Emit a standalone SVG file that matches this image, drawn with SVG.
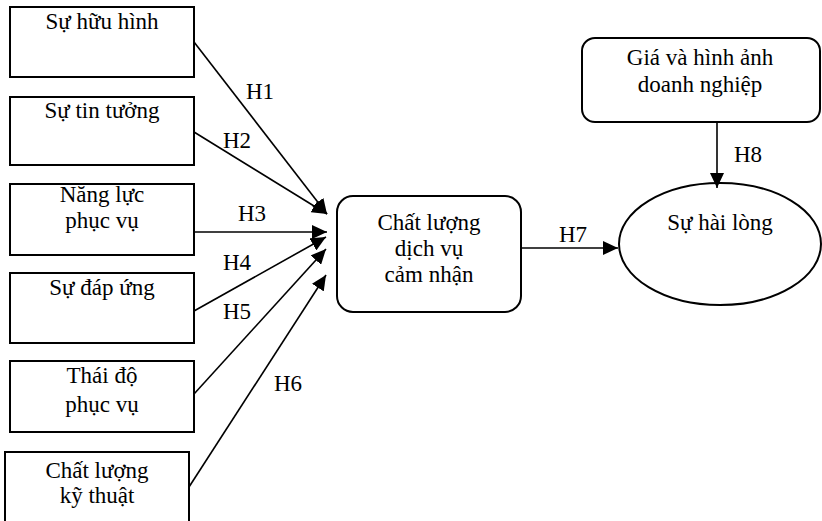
<svg xmlns="http://www.w3.org/2000/svg" width="822" height="521" viewBox="0 0 822 521">
<style>
.box{fill:#fff;stroke:#000;stroke-width:2}
text{font-family:'Liberation Serif','Times New Roman',serif;font-size:23px;fill:#000}
.t{text-anchor:middle}
.c{stroke:#000;stroke-width:1.6;fill:none;marker-end:url(#ah)}
</style>
<defs>
<marker id="ah" markerUnits="userSpaceOnUse" markerWidth="16" markerHeight="14" refX="15" refY="7" orient="auto">
<path d="M0,0 L15,7 L0,14 Z" fill="#000"/>
</marker>
</defs>
<rect width="822" height="521" fill="#fff"/>
<g id="n1"><rect class="box" x="10" y="7" width="184" height="70"/><text class="t" x="102" y="29">Sự hữu hình</text></g>
<g id="n2"><rect class="box" x="10" y="97" width="184" height="68"/><text class="t" x="102" y="118">Sự tin tưởng</text></g>
<g id="n3"><rect class="box" x="10" y="184" width="184" height="71"/><text class="t" x="102" y="202">Năng lực</text><text class="t" x="102" y="228">phục vụ</text></g>
<g id="n4"><rect class="box" x="10" y="273" width="184" height="70"/><text class="t" x="102" y="295">Sự đáp ứng</text></g>
<g id="n5"><rect class="box" x="10" y="361" width="184" height="71"/><text class="t" x="102" y="383">Thái độ</text><text class="t" x="102" y="412">phục vụ</text></g>
<g id="n6"><rect class="box" x="5" y="452" width="184" height="80"/><text class="t" x="97" y="478">Chất lượng</text><text class="t" x="97" y="503">kỹ thuật</text></g>
<g id="n7"><rect class="box" x="337" y="196" width="184" height="116" rx="16"/><text class="t" x="429" y="230">Chất lượng</text><text class="t" x="429" y="256">dịch vụ</text><text class="t" x="429" y="282">cảm nhận</text></g>
<g id="n8"><rect class="box" x="582" y="38" width="238" height="84" rx="13"/><text class="t" x="700" y="65">Giá và hình ảnh</text><text class="t" x="700" y="92">doanh nghiệp</text></g>
<g id="n9"><ellipse class="box" cx="720" cy="244" rx="101" ry="61"/><text class="t" x="720" y="230">Sự hài lòng</text></g>
<g id="connectors">
<line class="c" x1="194" y1="42" x2="327" y2="214"/>
<line class="c" x1="194" y1="132" x2="327" y2="214"/>
<line class="c" x1="194" y1="232" x2="327" y2="232"/>
<line class="c" x1="194" y1="311" x2="326" y2="237"/>
<line class="c" x1="194" y1="394" x2="326" y2="249"/>
<line class="c" x1="189" y1="487" x2="326" y2="275"/>
<line class="c" x1="521" y1="248" x2="618" y2="248"/>
<line class="c" x1="717" y1="122" x2="717" y2="188"/>
<text x="246" y="99">H1</text>
<text x="223" y="148">H2</text>
<text x="238" y="221">H3</text>
<text x="223" y="270">H4</text>
<text x="223" y="319">H5</text>
<text x="274" y="391">H6</text>
<text x="559" y="242">H7</text>
<text x="734" y="162">H8</text>
</g>
</svg>
